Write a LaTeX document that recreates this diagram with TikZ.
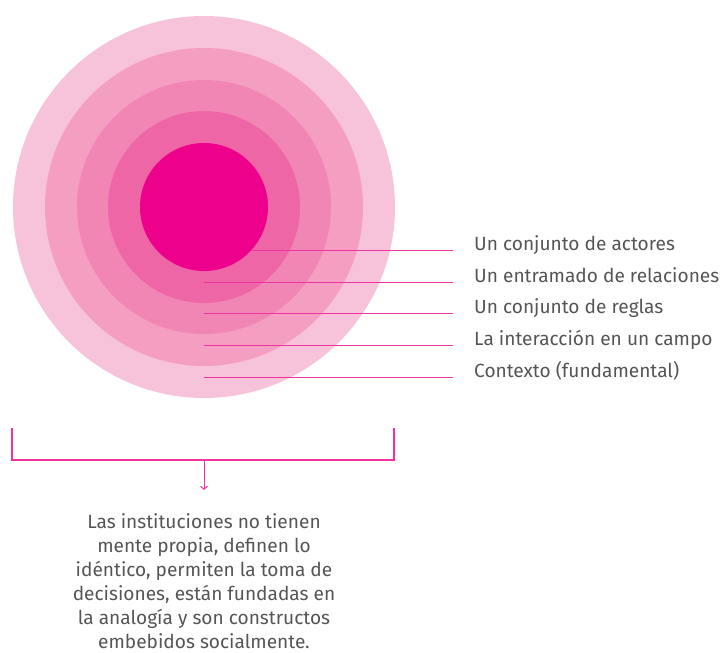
\documentclass[tikz,border=0pt]{standalone}
\usepackage{fontspec}
\setmainfont{Fira Sans}
\usepackage{tikz}
\usetikzlibrary{positioning,arrows.meta}
\definecolor{rosa}{HTML}{EC008C}
\definecolor{anillo1}{HTML}{F7C3DA}
\definecolor{anillo2}{HTML}{F49EC2}
\definecolor{anillo3}{HTML}{F186B5}
\definecolor{anillo4}{HTML}{EE66A6}
\definecolor{texto}{HTML}{555555}
\tikzstyle{guia}      = [draw=rosa!80, line width=1pt]
\tikzstyle{rotulo}    = [anchor=base west, inner sep=0pt, text=texto, font=\fontsize{19.1}{24}\selectfont]
\tikzstyle{llave}     = [draw=rosa!80, line width=1.2pt]
\tikzstyle{flecha}    = [draw=rosa!80, line width=1pt, -{Straight Barb[length=3pt,width=7pt]}]

\begin{document}
\begin{tikzpicture}[x=1pt,y=-1pt]
		\useasboundingbox (0,0) rectangle (721,653);

		% anillos
		\fill[anillo1] (204,207) circle[radius=191pt];
		\fill[anillo2] (204,207) circle[radius=159pt];
		\fill[anillo3] (204,207) circle[radius=127pt];
		\fill[anillo4] (204,207) circle[radius=96pt];
		\fill[rosa] (204,207) circle[radius=64pt];

		% rotulos
		\node[rotulo] (actores) at (474,250) {Un conjunto de actores};
		\node[rotulo] (relaciones) at (474,282) {Un entramado de relaciones};
		\node[rotulo] (reglas) at (474,313) {Un conjunto de reglas};
		\node[rotulo] (campo) at (474,345) {La interacción en un campo};
		\node[rotulo] (contexto) at (474,377) {Contexto (fundamental)};

		\coordinate (a1) at (252,250);
		\coordinate (a2) at (204,282);
		\coordinate (a3) at (204,313);
		\coordinate (a4) at (204,345);
		\coordinate (a5) at (204,377);

		\draw[guia] (a1) -- ([xshift=-21pt]actores.base west);
		\draw[guia] (a2) -- ([xshift=-21pt]relaciones.base west);
		\draw[guia] (a3) -- ([xshift=-21pt]reglas.base west);
		\draw[guia] (a4) -- ([xshift=-21pt]campo.base west);
		\draw[guia] (a5) -- ([xshift=-21pt]contexto.base west);

		% llave y nota
		\coordinate (izq) at (12,428);
		\coordinate (der) at (394,428);
		\coordinate (medio) at (204,460);
		\draw[llave] (izq) -- (12,460) -- (394,460) -- (der);

		\node[text=texto, align=center, font=\fontsize{19.1}{24}\selectfont] (nota) at (204,581)
			{Las instituciones no tienen\\mente propia, definen lo\\idéntico, permiten la toma de\\decisiones, están fundadas en\\la analogía y son constructos\\embebidos socialmente.};

		\draw[flecha] (medio) -- ([yshift=20pt]nota.north);
	\end{tikzpicture}
\end{document}
